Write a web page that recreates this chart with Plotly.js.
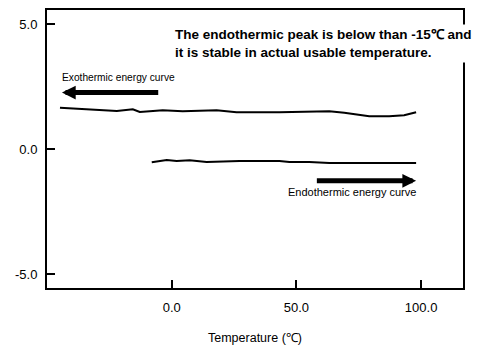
<!DOCTYPE html>
<html>
<head>
<meta charset="utf-8">
<script src="https://cdn.plot.ly/plotly-3.0.1.min.js"></script>
<style>html,body{margin:0;padding:0;background:#fff;}#chart{width:495px;height:345px;}</style>
</head>
<body>
<div id="chart"></div>
<script>
// Exothermic (cooling) curve
const exoTemp = [-44.8, -35.6, -28.8, -22, -15.6, -12.8, -8.8, -3.6, 4.4, 11.2, 18, 26, 35.2, 43.2, 53.2, 63.2, 69.2, 74, 79.2, 87.2, 93.2, 98];
const exoVal  = [1.65, 1.59, 1.55, 1.52, 1.59, 1.48, 1.51, 1.55, 1.51, 1.53, 1.55, 1.47, 1.46, 1.47, 1.49, 1.51, 1.45, 1.39, 1.31, 1.31, 1.35, 1.47];
// Endothermic (heating) curve
const endoTemp = [-8, -4.8, -2, 2, 7.2, 14, 22, 27.2, 34, 43.2, 47.2, 55.2, 63.2, 76.4, 87.2, 98];
const endoVal  = [-0.53, -0.48, -0.44, -0.48, -0.45, -0.52, -0.49, -0.48, -0.48, -0.48, -0.52, -0.52, -0.56, -0.56, -0.53, -0.56];

const xTickVals = [0, 50, 100];
const xTickText = ['0.0', '50.0', '100.0'];
const yTickVals = [-5, 0, 5];
const yTickText = ['-5.0', '0.0', '5.0'];

const noteText = 'The endothermic peak is below than -15\u2103 and<br>it is stable in actual usable temperature.';
const exoLabel = 'Exothermic energy curve';
const endoLabel = 'Endothermic energy curve';
// arrow positions (data units): [tail x, head x, y]
const exoArrow = [-4.8, -44, 2.26];
const endoArrow = [57.6, 98, -1.27];
const exoLabelPos = [-21.2, 2.86];
const endoLabelPos = [72.4, -1.71];

const FONT = 'Liberation Sans, Arial, sans-serif';
const lineStyle = {color: '#000', width: 2.2};
const traces = [
  {x: exoTemp, y: exoVal, mode: 'lines', line: lineStyle, hoverinfo: 'skip'},
  {x: endoTemp, y: endoVal, mode: 'lines', line: lineStyle, hoverinfo: 'skip'}
];

const axisCommon = {
  showline: true, linecolor: '#000', linewidth: 2, mirror: true,
  ticks: 'inside', ticklen: 8, tickwidth: 2, tickcolor: '#000',
  showgrid: false, zeroline: false,
  tickfont: {family: FONT, size: 13, color: '#000'}
};

const layout = {
  width: 495, height: 345,
  margin: {l: 47, r: 32, t: 10, b: 57},
  paper_bgcolor: '#fff', plot_bgcolor: '#fff',
  showlegend: false,
  xaxis: Object.assign({}, axisCommon, {
    range: [-50, 116.8], tickvals: xTickVals, ticktext: xTickText, ticklabelstandoff: 6,
    title: {text: 'Temperature (\u2103)', font: {family: FONT, size: 12.5, color: '#000'}, standoff: 20}
  }),
  yaxis: Object.assign({}, axisCommon, {
    range: [-5.56, 5.56], tickvals: yTickVals, ticktext: yTickText, ticklabelstandoff: 5
  }),
  annotations: [
    {xref: 'paper', yref: 'paper', x: 0.3, y: 0.878, xanchor: 'left', yanchor: 'middle', align: 'left',
     text: '<b>' + noteText + '</b>', showarrow: false, bgcolor: '#fff', borderpad: 2,
     font: {family: FONT, size: 13.5, color: '#000'}},
    {x: exoLabelPos[0], y: exoLabelPos[1], text: exoLabel, showarrow: false,
     font: {family: FONT, size: 10.2, color: '#000'}},
    {x: endoLabelPos[0], y: endoLabelPos[1], text: endoLabel, showarrow: false,
     font: {family: FONT, size: 11, color: '#000'}},
    {x: exoArrow[1], y: exoArrow[2], ax: exoArrow[0], ay: exoArrow[2], axref: 'x', ayref: 'y',
     text: '', showarrow: true, arrowhead: 2, arrowsize: 0.55, arrowwidth: 5, arrowcolor: '#000', standoff: 0},
    {x: endoArrow[1], y: endoArrow[2], ax: endoArrow[0], ay: endoArrow[2], axref: 'x', ayref: 'y',
     text: '', showarrow: true, arrowhead: 2, arrowsize: 0.55, arrowwidth: 5, arrowcolor: '#000', standoff: 0}
  ]
};

Plotly.newPlot('chart', traces, layout, {staticPlot: true});
</script>
</body>
</html>
